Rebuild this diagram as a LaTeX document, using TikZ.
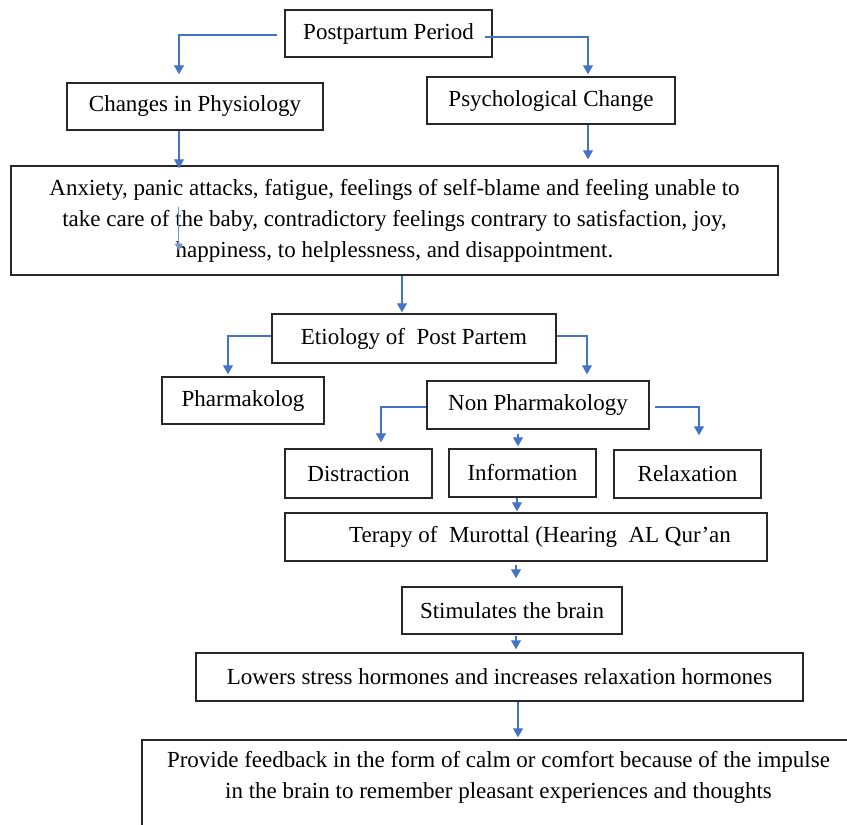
\documentclass[tikz,border=0pt]{standalone}
\usepackage{fontspec}
\setmainfont{Liberation Serif}
\usetikzlibrary{arrows.meta}
\definecolor{conn}{RGB}{68,114,196}
\definecolor{edge}{RGB}{40,40,40}
\begin{document}
\begin{tikzpicture}[x=1pt,y=-1pt,
  box/.style={draw=edge, line width=1.4pt, inner sep=0pt, align=center,
              font=\fontsize{23}{31}\selectfont},
  txt/.style={inner sep=0pt, align=center, font=\fontsize{23}{31}\selectfont},
  arr/.style={draw=conn, line width=1.1pt, -{Triangle[width=10pt,length=9pt]}}
]
\useasboundingbox (0,0) rectangle (847,825);

% boxes
\node[box, minimum width=207pt, minimum height=47pt] (pp)   at (388.5,33.5) {Postpartum Period};
\node[box, minimum width=256pt, minimum height=47pt] (chg)  at (195,106.5)  {Changes in Physiology};
\node[box, minimum width=248pt, minimum height=47pt] (psy)  at (551,100.5)  {Psychological Change};
\node[box, minimum width=767pt, minimum height=109pt] (big) at (394.5,220.5)
  {Anxiety, panic attacks, fatigue, feelings of self-blame and feeling unable to\\
   take care of the baby, contradictory feelings contrary to satisfaction, joy,\\
   happiness, to helplessness, and disappointment.};
\node[box, minimum width=284pt, minimum height=49pt] (eti)  at (414,338.5)  {Etiology of\ \ Post Partem};
\node[box, minimum width=162pt, minimum height=47pt] (pha)  at (243,400.5)  {Pharmakolog};
\node[box, minimum width=222pt, minimum height=48pt] (npha) at (538,405)    {Non Pharmakology};
\node[box, minimum width=147pt, minimum height=49pt] (dis)  at (358.5,473.5) {Distraction};
\node[box, minimum width=147pt, minimum height=48pt] (inf)  at (522.5,473)  {Information};
\node[box, minimum width=147pt, minimum height=48pt] (rel)  at (687.5,474)  {Relaxation};
\node[box, minimum width=482pt, minimum height=48pt] (ter)  at (526,537)
  {\hspace*{28pt}Terapy of\ \ Murottal (Hearing\ \ AL Qur’an};
\node[box, minimum width=220pt, minimum height=47pt] (sti)  at (512,610.5)  {Stimulates the brain};
\node[box, minimum width=607pt, minimum height=48pt] (low)  at (499.5,677)
  {Lowers stress hormones and increases relaxation hormones};
\begin{scope}
  \clip (0,0) rectangle (847,825);
  \node[box, minimum width=713pt, minimum height=110pt] (fb) at (498.5,795) {};
\end{scope}
\node[txt] (fbt) at (498.5,777.5)
  {Provide feedback in the form of calm or comfort because of the impulse\\
   in the brain to remember pleasant experiences and thoughts};

% connectors
\draw[arr] ([xshift=-7pt,yshift=-1.5pt]pp.west) -| ([xshift=-16pt,yshift=8pt]chg.north);
\draw[arr] ([xshift=-8pt,yshift=-3.5pt]pp.east) -| ([xshift=37pt,yshift=2pt]psy.north);

\coordinate (a3) at ([xshift=-16pt]chg.south);
\draw[arr, shorten >=-3pt] (a3) -- (a3 |- big.north);
\coordinate (a4) at ([xshift=37pt]psy.south);
\draw[arr, shorten >=6pt] (a4) -- (a4 |- big.north);

% stray line visible inside the large box
\coordinate (s1) at ([xshift=168.5pt,yshift=14pt]big.west);
\coordinate (s2) at ([xshift=168.5pt,yshift=-30pt]big.west);
\draw[draw=conn!75, line width=1.2pt, -{Triangle[width=8pt,length=7pt]}] (s1) -- (s2);

\coordinate (a5) at ([xshift=7.5pt]big.south);
\draw[arr, shorten >=1pt] (a5) -- (a5 |- eti.north);

\draw[arr] ([yshift=2.5pt]eti.west) -| ([xshift=-15pt,yshift=2pt]pha.north);
\draw[arr] ([yshift=2.5pt]eti.east) -| ([xshift=49pt,yshift=6pt]npha.north);

\draw[arr] ([yshift=-2pt]npha.west) -| ([xshift=22.5pt,yshift=6pt]dis.north);
\draw[arr] ([xshift=-20pt,yshift=-4pt]npha.south) -- ([xshift=-4.5pt,yshift=2pt]inf.north);
\draw[arr] ([xshift=5pt,yshift=-2pt]npha.east) -| ([xshift=11.5pt,yshift=14pt]rel.north);

\coordinate (a11) at ([xshift=-5.5pt]inf.south);
\draw[arr, shorten >=1pt] (a11) -- (a11 |- ter.north);
\coordinate (a12) at ([xshift=-10pt,yshift=-3pt]ter.south);
\draw[arr, shorten >=8pt] (a12) -- (a12 |- sti.north);
\coordinate (a13) at ([xshift=4pt,yshift=-1pt]sti.south);
\draw[arr, shorten >=3pt] (a13) -- (a13 |- low.north);
\coordinate (a14) at ([xshift=18.5pt]low.south);
\draw[arr, shorten >=2pt] (a14) -- (a14 |- fb.north);
\end{tikzpicture}
\end{document}
